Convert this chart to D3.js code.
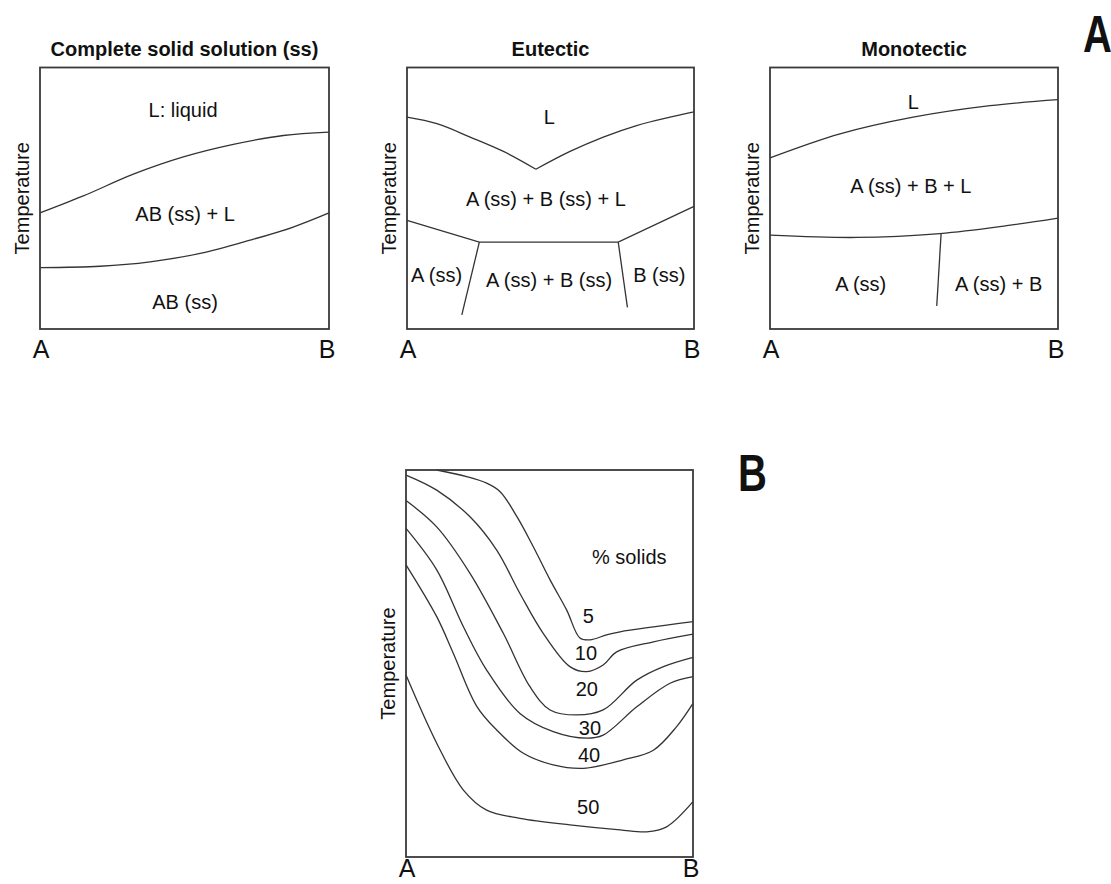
<!DOCTYPE html>
<html>
<head>
<meta charset="utf-8">
<script src="https://cdn.jsdelivr.net/npm/d3@7"></script>
<style>
    body { margin: 0; background: #fff; }
    svg { display: block; }
    text { font-family: "Liberation Sans", Arial, sans-serif; fill: #111; }
</style>
</head>
<body>
<svg id="chart" width="1111" height="884"></svg>
<script>
// end members on the composition axis
const endMembers = ["A", "B"];
const yTitle = "Temperature";
const panelTitles = ["Complete solid solution (ss)", "Eutectic", "Monotectic"];

// composition (% B, 0-100) vs temperature (0-100)
const ssLiquidus = [[0, 44.4], [15, 50.9], [32.3, 59.2], [49.6, 65.8], [66.9, 70.6], [84.2, 74.0], [100, 75.3]];
const ssSolidus = [[0, 23.5], [20.8, 24.0], [38.1, 25.7], [55.4, 28.9], [72.7, 34.0], [87.6, 39.0], [100, 44.4]];
const ssLabels = [
    {text: "L: liquid", x: 49.5, y: 83.6},
    {text: "AB (ss) + L", x: 50.2, y: 43.9},
    {text: "AB (ss)", x: 50.2, y: 10.4}
];

const euLiquidusLeft = [[0, 81.0], [10.4, 78.5], [22.0, 73.4], [33.6, 67.9], [44.9, 61.1]];
const euLiquidusRight = [[44.9, 61.1], [56.8, 67.9], [68.4, 73.4], [80.0, 77.8], [91.6, 81.0], [100, 83.0]];
const euSolidus = [[0, 41.5], [25.2, 33.2], [73.6, 33.2], [100, 46.9]];
const euSolvusA = [[25.2, 33.2], [19.1, 5.4]];
const euSolvusB = [[73.6, 33.2], [76.8, 8.3]];
const euLabels = [
    {text: "L", x: 49.6, y: 80.9},
    {text: "A (ss) + B (ss) + L", x: 48.4, y: 49.9},
    {text: "A (ss)", x: 10.3, y: 20.7},
    {text: "A (ss) + B (ss)", x: 49.5, y: 18.8},
    {text: "B (ss)", x: 87.9, y: 20.7}
];

const moLiquidus = [[0, 65.4], [24.3, 74.6], [49.7, 81.0], [76.4, 85.4], [100, 87.7]];
const moSolidus = [[0, 35.9], [30.1, 35.0], [59.0, 36.5], [82.2, 39.5], [100, 42.4]];
const moSolvus = [[59.4, 36.3], [57.9, 8.8]];
const moLabels = [
    {text: "L", x: 49.8, y: 86.9},
    {text: "A (ss) + B + L", x: 48.9, y: 54.5},
    {text: "A (ss)", x: 31.5, y: 17.1},
    {text: "A (ss) + B", x: 79.4, y: 17.1}
];

// iso-% solids contours for panel B
const solids5 = [[10.7, 100], [21.1, 98.3], [28.1, 96.6], [32.8, 94.4], [38.6, 88.0], [44.4, 80.1], [50.2, 71.6], [56.0, 63.8], [60.6, 56.6], [64.1, 56.1], [69.9, 57.4], [74.6, 58.2], [100, 60.8]];
const solids10 = [[0, 98.7], [10.7, 94.8], [22.3, 87.9], [31.6, 79.3], [39.7, 68.1], [47.8, 57.8], [57.1, 49.2], [63.0, 47.9], [68.7, 49.6], [73.4, 53.0], [86.2, 55.6], [100, 57.6]];
const solids20 = [[0, 92.1], [10.7, 85.3], [22.3, 73.3], [33.9, 57.8], [43.2, 44.0], [50.2, 38.0], [59.5, 36.7], [68.7, 38.0], [80.4, 45.7], [89.7, 49.2], [100, 51.6]];
const solids30 = [[0, 84.9], [10.7, 74.2], [20.0, 59.5], [28.1, 48.3], [39.7, 37.1], [51.3, 32.4], [63.0, 30.7], [68.7, 31.5], [80.4, 38.8], [92.0, 44.9], [100, 46.6]];
const solids40 = [[0, 75.5], [10.7, 62.1], [16.5, 52.6], [24.6, 39.0], [31.6, 32.8], [40.9, 26.8], [51.3, 23.8], [61.8, 22.9], [75.7, 25.1], [86.2, 27.6], [94.3, 33.7], [100, 39.7]];
const solids50 = [[0, 47.0], [10.7, 29.4], [20.0, 17.3], [28.1, 12.1], [39.7, 10.0], [57.1, 8.3], [74.6, 7.0], [83.9, 6.5], [90.8, 7.8], [100, 14.3]];
const solidsLabels = [
    {text: "% solids", x: 77.8, y: 77.6},
    {text: "5", x: 63.5, y: 62.3},
    {text: "10", x: 62.7, y: 52.6},
    {text: "20", x: 63.0, y: 43.3},
    {text: "30", x: 64.1, y: 33.3},
    {text: "40", x: 63.8, y: 26.4},
    {text: "50", x: 63.5, y: 12.8}
];

const svg = d3.select("#chart");
const lineColor = "#333";

function drawPanel(box, title, curves, labels, endOffset) {
    const x = d3.scaleLinear().domain([0, 100]).range([box.x0, box.x1]);
    const y = d3.scaleLinear().domain([0, 100]).range([box.y1, box.y0]);
    const g = svg.append("g");

    const smooth = d3.line().x(d => x(d[0])).y(d => y(d[1])).curve(d3.curveCatmullRom.alpha(0.5));
    const straight = d3.line().x(d => x(d[0])).y(d => y(d[1]));

    curves.forEach(c => {
        g.append("path")
            .attr("d", c.straight ? straight(c.pts) : smooth(c.pts))
            .attr("fill", "none")
            .attr("stroke", lineColor)
            .attr("stroke-width", 1.3);
    });

    // frame
    g.append("rect")
        .attr("x", box.x0).attr("y", box.y0)
        .attr("width", box.x1 - box.x0).attr("height", box.y1 - box.y0)
        .attr("fill", "none")
        .attr("stroke", "#3a3a3a")
        .attr("stroke-width", 1.8);

    if (title) {
        g.append("text")
            .attr("x", (box.x0 + box.x1) / 2)
            .attr("y", 56)
            .attr("text-anchor", "middle")
            .style("font-weight", "bold")
            .style("font-size", "20px")
            .text(title);
    }

    g.append("text")
        .attr("transform", `translate(${box.x0 - 11},${(box.y0 + box.y1) / 2}) rotate(-90)`)
        .attr("text-anchor", "middle")
        .style("font-size", "20px")
        .text(yTitle);

    // A / B under the axis
    g.selectAll(".end")
        .data(endMembers)
        .enter()
        .append("text")
        .attr("x", (d, i) => i === 0 ? box.x0 + 1 : box.x1 - 2)
        .attr("y", box.y1 + endOffset)
        .attr("text-anchor", "middle")
        .style("font-size", "25px")
        .text(d => d);

    g.selectAll(".lbl")
        .data(labels)
        .enter()
        .append("text")
        .attr("x", d => x(d.x))
        .attr("y", d => y(d.y))
        .attr("dy", "0.35em")
        .attr("text-anchor", "middle")
        .style("font-size", "20px")
        .text(d => d.text);
}

drawPanel({x0: 40, x1: 329, y0: 67.5, y1: 329}, panelTitles[0],
    [{pts: ssLiquidus}, {pts: ssSolidus}], ssLabels, 29);

drawPanel({x0: 407, x1: 694, y0: 67.5, y1: 329}, panelTitles[1],
    [{pts: euLiquidusLeft}, {pts: euLiquidusRight}, {pts: euSolidus, straight: true},
     {pts: euSolvusA, straight: true}, {pts: euSolvusB, straight: true}], euLabels, 29);

drawPanel({x0: 770, x1: 1058, y0: 67.5, y1: 329}, panelTitles[2],
    [{pts: moLiquidus}, {pts: moSolidus}, {pts: moSolvus, straight: true}], moLabels, 29);

// bottom panel sits close to the page edge, so its A/B go just above it
drawPanel({x0: 406, x1: 693, y0: 470, y1: 857}, null,
    [solids5, solids10, solids20, solids30, solids40, solids50].map(p => ({pts: p})), solidsLabels, 20);

// part letters
[{t: "A", x: 1083, y: 52}, {t: "B", x: 738, y: 491}].forEach(p => {
    svg.append("text")
        .attr("transform", `translate(${p.x},${p.y}) scale(1,1.3)`)
        .style("font-weight", "bold")
        .style("font-size", "40px")
        .text(p.t);
});
</script>
</body>
</html>
